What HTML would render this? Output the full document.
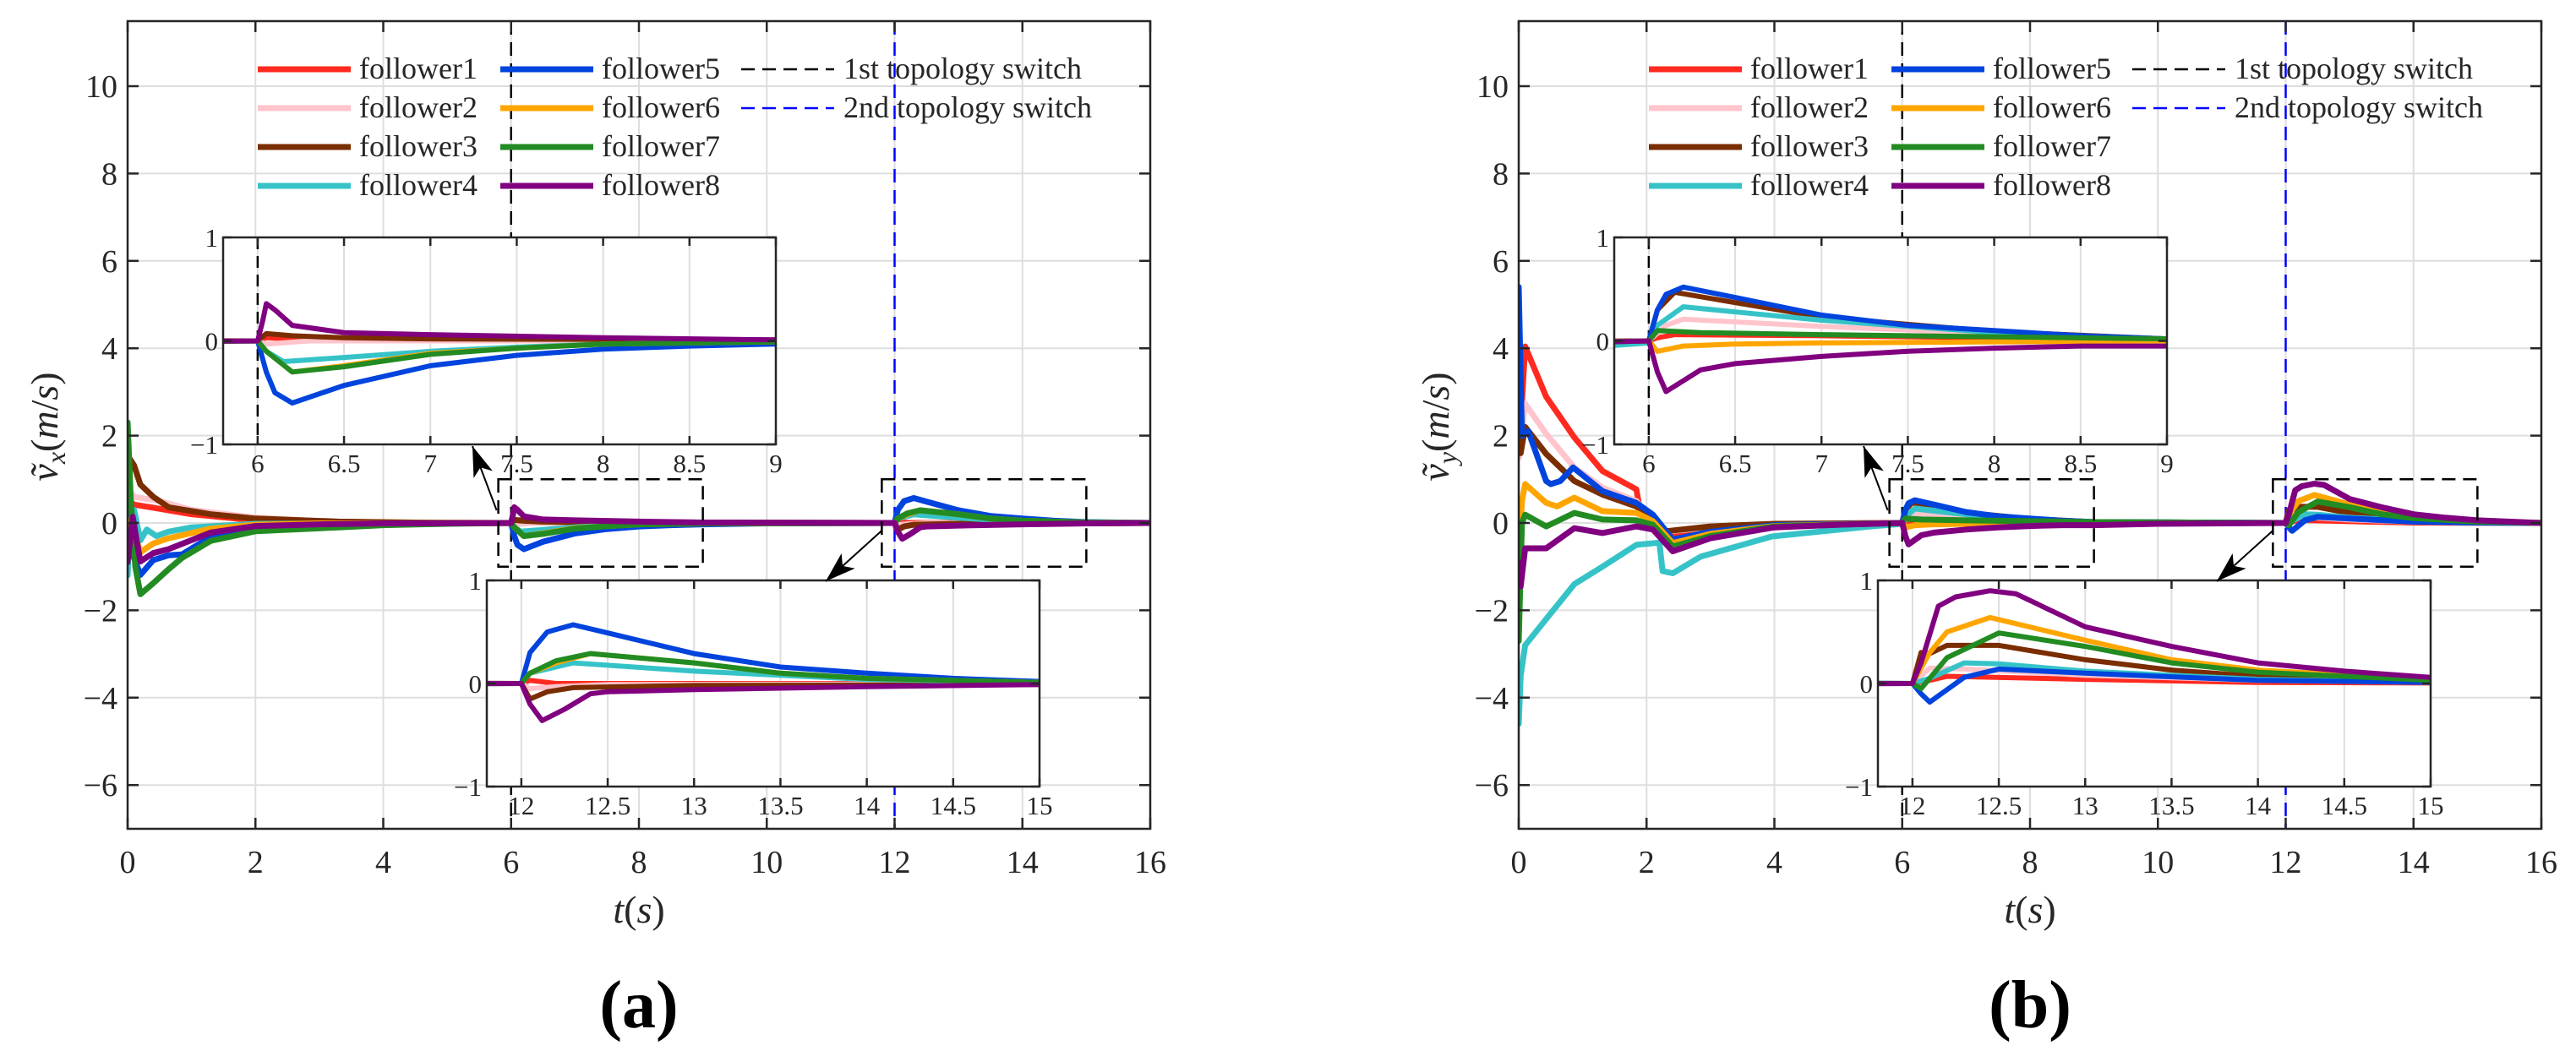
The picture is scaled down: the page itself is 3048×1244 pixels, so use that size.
<!DOCTYPE html>
<html><head><meta charset="utf-8"><style>
html,body{margin:0;padding:0;background:#fff;width:3048px;height:1244px;overflow:hidden;}
svg{display:block;font-family:"Liberation Serif",serif;}
</style></head><body>
<svg id="fig" xmlns="http://www.w3.org/2000/svg" width="3048" height="1244" viewBox="0 0 3048 1244" font-family="'Liberation Serif', serif"></svg>
<script>
// ---------- data (t, value) per follower ----------
const seriesNames = ["follower1","follower2","follower3","follower4","follower5","follower6","follower7","follower8"];
const seriesColors = ["#ff2a1f","#ffc4cc","#7a2d00","#36c3c8","#0044dd","#ffa500","#228b22","#800080"];
const xTicksMain = [0,2,4,6,8,10,12,14,16];
const yTicksMain = [-6,-4,-2,0,2,4,6,8,10];
const xTicksInset1 = [6,6.5,7,7.5,8,8.5,9];
const xTicksInset2 = [12,12.5,13,13.5,14,14.5,15];
const yTicksInset = [-1,0,1];
const switchTimes = [6,12];

const vx1 = [[0,0],[0.03,0.5],[0.1,0.42],[0.4,0.35],[1,0.2],[2,0.06],[3,0.02],[5,0],[6,0],[6.05,0.03],[6.3,0.01],[7,0],[12,0],[12.05,0.03],[12.2,0],[15,0],[16,0]];
const vx2 = [[0,0],[0.05,0.7],[0.1,0.6],[0.5,0.5],[1,0.3],[2,0.12],[3,0.04],[4,0.01],[6,0],[6.05,-0.03],[6.3,0],[12,0],[12.05,-0.05],[12.2,-0.03],[12.5,-0.01],[16,0]];
const vx3 = [[0,0.4],[0.02,1.5],[0.1,1.32],[0.2,0.88],[0.4,0.6],[0.64,0.36],[1.3,0.2],[2,0.1],[3.3,0.03],[4.5,0.01],[6,0],[6.05,0.07],[6.2,0.05],[6.5,0.03],[7,0.02],[9,0.01],[12,0],[12.05,-0.15],[12.15,-0.08],[12.3,-0.04],[13,-0.02],[15,-0.01],[16,0]];
const vx4 = [[0,-1.2],[0.04,0.3],[0.1,0.3],[0.2,-0.4],[0.3,-0.15],[0.45,-0.3],[0.64,-0.2],[1,-0.1],[2,-0.02],[6,0],[6.05,-0.1],[6.15,-0.2],[6.5,-0.16],[7,-0.1],[7.5,-0.06],[8,-0.03],[9,-0.01],[12,0],[12.05,0.1],[12.3,0.2],[13,0.12],[14,0.04],[15,0.01],[16,0]];
const vx5 = [[0,2.3],[0.02,-0.3],[0.1,-0.8],[0.2,-1.19],[0.4,-0.85],[0.64,-0.74],[0.85,-0.72],[1.3,-0.32],[2,-0.13],[3,-0.05],[4,-0.02],[6,0],[6.05,-0.3],[6.1,-0.5],[6.2,-0.6],[6.5,-0.43],[7,-0.24],[7.5,-0.14],[8,-0.08],[8.5,-0.05],[9,-0.03],[10,-0.01],[12,0],[12.05,0.3],[12.15,0.5],[12.3,0.57],[12.5,0.49],[13,0.29],[13.5,0.16],[14,0.1],[14.5,0.05],[15,0.02],[16,0]];
const vx6 = [[0,-0.4],[0.05,0.1],[0.1,-0.2],[0.2,-0.67],[0.4,-0.47],[0.64,-0.35],[1.3,-0.13],[2,-0.04],[3,-0.01],[6,0],[6.05,-0.1],[6.2,-0.3],[6.5,-0.24],[7,-0.12],[7.5,-0.07],[8,-0.03],[9,-0.01],[12,0],[12.05,0.1],[12.2,0.2],[12.4,0.29],[13,0.2],[13.5,0.1],[14,0.05],[15,0.01],[16,0]];
const vx7 = [[0,2.3],[0.05,0.5],[0.12,-1.0],[0.2,-1.63],[0.4,-1.38],[0.64,-1.06],[0.85,-0.8],[1.3,-0.41],[2,-0.19],[3.3,-0.1],[4,-0.05],[5,-0.02],[6,0],[6.05,-0.1],[6.2,-0.3],[6.5,-0.25],[7,-0.13],[7.5,-0.07],[8,-0.03],[9,-0.01],[12,0],[12.05,0.1],[12.2,0.22],[12.4,0.29],[13,0.2],[13.5,0.1],[14,0.05],[15,0.01],[16,0]];
const vx8 = [[0,-0.9],[0.08,0.14],[0.13,-0.3],[0.2,-0.88],[0.4,-0.69],[0.64,-0.6],[1.3,-0.22],[2,-0.07],[3,-0.03],[4,-0.01],[6,0],[6.03,0.2],[6.05,0.36],[6.1,0.3],[6.2,0.15],[6.5,0.08],[7,0.06],[8,0.03],[9,0.01],[12,0],[12.05,-0.2],[12.12,-0.36],[12.25,-0.25],[12.4,-0.1],[12.5,-0.08],[13,-0.06],[14,-0.03],[15,-0.01],[16,0]];

const vy1 = [[0,1.5],[0.1,4.04],[0.43,2.89],[0.87,1.96],[1.31,1.19],[1.84,0.77],[1.9,0.27],[2,0.12],[2.2,-0.27],[2.41,-0.3],[2.85,-0.2],[4,-0.05],[5,-0.01],[6,0],[6.05,0.03],[6.15,0.06],[7,0.05],[8,0.03],[9,0.01],[10,0],[12,0],[12.1,0.03],[12.2,0.07],[13,0.04],[14,0.01],[16,0]];
const vy2 = [[0,1.5],[0.1,2.73],[0.43,2.04],[0.87,1.27],[1.31,0.81],[1.84,0.5],[2.1,0.04],[2.3,-0.2],[3,-0.1],[4,-0.03],[6,0],[6.1,0.15],[6.2,0.21],[7,0.14],[8,0.07],[9,0.02],[12,0],[12.1,0.15],[12.3,0.14],[13,0.08],[14,0.03],[15,0.01],[16,0]];
const vy3 = [[0,2.9],[0.03,1.6],[0.1,2.2],[0.43,1.58],[0.87,0.96],[1.31,0.65],[1.84,0.38],[2.1,0.1],[2.3,-0.19],[3,-0.08],[4,-0.02],[6,0],[6.05,0.3],[6.15,0.47],[6.5,0.37],[7,0.23],[8,0.09],[9,0.02],[12,0],[12.05,0.3],[12.1,0.29],[12.2,0.37],[12.5,0.37],[13,0.23],[13.5,0.13],[14,0.07],[15,0.02],[16,0]];
const vy4 = [[0,-4.6],[0.03,-3.5],[0.1,-2.8],[0.43,-2.2],[0.87,-1.4],[1.31,-1.0],[1.84,-0.5],[2.2,-0.45],[2.25,-1.1],[2.41,-1.15],[2.85,-0.77],[3.96,-0.31],[5.5,-0.08],[6,-0.02],[6.05,0.15],[6.2,0.33],[6.5,0.28],[7,0.2],[8,0.08],[9,0.02],[12,0],[12.1,0.05],[12.3,0.2],[12.5,0.19],[13,0.12],[14,0.04],[15,0.01],[16,0]];
const vy5 = [[0,5.4],[0.05,2.0],[0.15,2.1],[0.43,0.96],[0.5,0.89],[0.65,0.96],[0.85,1.27],[1.31,0.73],[1.84,0.46],[2.1,0.19],[2.41,-0.38],[3,-0.2],[4,-0.05],[6,0],[6.05,0.3],[6.1,0.45],[6.2,0.52],[6.5,0.42],[7,0.25],[7.5,0.15],[8,0.1],[8.5,0.05],[9,0.02],[12,0],[12.05,-0.1],[12.1,-0.18],[12.3,0.06],[12.5,0.14],[13,0.1],[14,0.03],[15,0.01],[16,0]];
const vy6 = [[0,-0.8],[0.05,0.5],[0.1,0.89],[0.43,0.46],[0.6,0.38],[0.87,0.58],[1.31,0.27],[1.84,0.23],[2.1,0.04],[2.41,-0.46],[3,-0.25],[4,-0.07],[6,0],[6.05,-0.1],[6.2,-0.05],[6.5,-0.03],[7,-0.02],[9,0],[12,0],[12.1,0.3],[12.2,0.5],[12.45,0.64],[13,0.42],[13.5,0.23],[14,0.13],[15,0.04],[16,0]];
const vy7 = [[0,-2.7],[0.05,0],[0.1,0.19],[0.43,-0.08],[0.87,0.23],[1.31,0.08],[1.84,0.06],[2.1,-0.04],[2.41,-0.54],[3,-0.3],[4,-0.08],[6,0],[6.05,0.1],[6.3,0.08],[7,0.06],[8,0.04],[9,0.02],[12,0],[12.05,-0.05],[12.2,0.25],[12.5,0.49],[13,0.36],[13.5,0.2],[14,0.11],[15,0.03],[16,0]];
const vy8 = [[0,-0.9],[0.03,-1.45],[0.1,-0.58],[0.43,-0.58],[0.87,-0.12],[1.31,-0.23],[1.84,-0.08],[2.1,-0.15],[2.41,-0.65],[3,-0.35],[4,-0.1],[5,-0.04],[6,0],[6.05,-0.3],[6.1,-0.49],[6.3,-0.28],[6.5,-0.22],[7,-0.15],[7.5,-0.1],[8,-0.07],[8.5,-0.05],[9,-0.05],[10,-0.02],[12,0],[12.05,0.2],[12.15,0.75],[12.25,0.84],[12.45,0.9],[12.6,0.87],[13,0.55],[13.5,0.36],[14,0.2],[14.5,0.12],[15,0.06],[16,0]];

const seriesVx = [vx1,vx2,vx3,vx4,vx5,vx6,vx7,vx8];
const seriesVy = [vy1,vy2,vy3,vy4,vy5,vy6,vy7,vy8];

// ---------- rendering ----------
const NS = "http://www.w3.org/2000/svg";
const svg = document.getElementById("fig");
const SERIF = "'Liberation Serif', 'DejaVu Serif', serif";
function mk(tag, attrs, parent){
  const e = document.createElementNS(NS, tag);
  for (const k in attrs) e.setAttribute(k, attrs[k]);
  if (tag === "text") e.setAttribute("font-family", SERIF);
  (parent||svg).appendChild(e);
  return e;
}
const defs = mk("defs", {});


const marker = mk("marker", {id:"arrowhead", markerWidth:"36", markerHeight:"24", refX:"36", refY:"12", orient:"auto", markerUnits:"userSpaceOnUse", viewBox:"0 0 36 24"}, defs);


const ah = mk("path", {d:"M0,0 L36,12 L0,24 L9,12 Z", fill:"#000"}, marker);



function pathFrom(data, fx, fy){
  return data.map((p,i)=>(i?"L":"M")+fx(p[0]).toFixed(1)+","+fy(p[1]).toFixed(1)).join(" ");
}

function drawPlot(ox, series, sub, letter, pid){
  const g = mk("g", {});
  
  
  const L = ox+151, R = ox+1361, T = 25, B = 981;
  const X = t => L + t*(R-L)/16;
  const Y = v => 619 - v*51.7;

  const cp = mk("clipPath", {id:"clip-main-"+pid}, defs);
  
  
  const cpr = mk("rect", {x:L, y:T, width:R-L, height:B-T}, cp);
  
  

  for (const t of xTicksMain){
    const gl = mk("line", {x1:X(t), x2:X(t), y1:T, y2:B, stroke:"#dedede", "stroke-width":2}, g);
    
    
  }
  for (const v of yTicksMain){
    const gl = mk("line", {x1:L, x2:R, y1:Y(v), y2:Y(v), stroke:"#dedede", "stroke-width":2}, g);
    
    
  }
  const sw1 = mk("line", {x1:X(switchTimes[0]), x2:X(switchTimes[0]), y1:T, y2:B, stroke:"#000", "stroke-width":2.5, "stroke-dasharray":"16 9"}, g);
  
  
  const sw2 = mk("line", {x1:X(switchTimes[1]), x2:X(switchTimes[1]), y1:T, y2:B, stroke:"#0000ff", "stroke-width":2.5, "stroke-dasharray":"16 9"}, g);
  
  

  const sg = mk("g", {"clip-path":"url(#clip-main-"+pid+")"}, g);
  
  
  series.forEach((d,i)=>{
    const p = mk("path", {d:pathFrom(d,X,Y), fill:"none", stroke:seriesColors[i], "stroke-width":7, "stroke-linejoin":"round", "stroke-linecap":"round"}, sg);
    
    
  });

  const box = mk("rect", {x:L, y:T, width:R-L, height:B-T, fill:"none", stroke:"#262626", "stroke-width":2.5}, g);
  
  
  for (const t of xTicksMain){
    const tk = mk("path", {d:`M${X(t)},${B} v-13 M${X(t)},${T} v13`, stroke:"#262626", "stroke-width":2.5}, g);
    
    
    const tl = mk("text", {x:X(t), y:1033, "font-size":38, "text-anchor":"middle", fill:"#262626"}, g);
    
    
    tl.textContent = String(t);
  }
  for (const v of yTicksMain){
    const tk = mk("path", {d:`M${L},${Y(v)} h13 M${R},${Y(v)} h-13`, stroke:"#262626", "stroke-width":2.5}, g);
    
    
    const tl = mk("text", {x:L-12, y:Y(v)+13, "font-size":38, "text-anchor":"end", fill:"#262626"}, g);
    
    
    tl.textContent = v<0 ? "\u2212"+Math.abs(v) : String(v);
  }

  const zb1 = mk("rect", {x:X(5.8), y:Y(1), width:X(9)-X(5.8), height:Y(-1)-Y(1), fill:"none", stroke:"#000", "stroke-width":2.5, "stroke-dasharray":"16 9"}, g);
  
  
  const zb2 = mk("rect", {x:X(11.8), y:Y(1), width:X(15)-X(11.8), height:Y(-1)-Y(1), fill:"none", stroke:"#000", "stroke-width":2.5, "stroke-dasharray":"16 9"}, g);
  
  

  const insets = [
    {l:ox+264, t:281, w:654, h:245, x0:5.8, x1:9, ticks:xTicksInset1, dashAt:6, name:"inset-1"},
    {l:ox+576, t:687, w:654, h:244, x0:11.8, x1:15, ticks:xTicksInset2, dashAt:null, name:"inset-2"}
  ];
  insets.forEach((ins,k)=>{
    const ig = mk("g", {}, g);
    
    
    const IX = t => ins.l + (t-ins.x0)*ins.w/(ins.x1-ins.x0);
    const IY = v => ins.t + (1-v)*ins.h/2;
    const bg = mk("rect", {x:ins.l, y:ins.t, width:ins.w, height:ins.h, fill:"#fff"}, ig);
    
    
    const c = mk("clipPath", {id:"clip-"+pid+"-"+k}, defs);
    
    
    const cr = mk("rect", {x:ins.l, y:ins.t, width:ins.w, height:ins.h}, c);
    
    
    for (const t of ins.ticks){
      const gl = mk("line", {x1:IX(t), x2:IX(t), y1:ins.t, y2:ins.t+ins.h, stroke:"#dedede", "stroke-width":2}, ig);
      
      
    }
    if (ins.dashAt!==null){
      const dl = mk("line", {x1:IX(ins.dashAt), x2:IX(ins.dashAt), y1:ins.t, y2:ins.t+ins.h, stroke:"#000", "stroke-width":2.5, "stroke-dasharray":"14 8"}, ig);
      
      
    }
    const isg = mk("g", {"clip-path":"url(#clip-"+pid+"-"+k+")"}, ig);
    
    
    series.forEach((d,i)=>{
      const p = mk("path", {d:pathFrom(d,IX,IY), fill:"none", stroke:seriesColors[i], "stroke-width":6, "stroke-linejoin":"round", "stroke-linecap":"round"}, isg);
      
      
    });
    const ib = mk("rect", {x:ins.l, y:ins.t, width:ins.w, height:ins.h, fill:"none", stroke:"#262626", "stroke-width":2.5}, ig);
    
    
    for (const t of ins.ticks){
      const tk = mk("path", {d:`M${IX(t)},${ins.t+ins.h} v-10 M${IX(t)},${ins.t} v10`, stroke:"#262626", "stroke-width":2.5}, ig);
      
      
      const tl = mk("text", {x:IX(t), y:ins.t+ins.h+33, "font-size":31, "text-anchor":"middle", fill:"#262626"}, ig);
      
      
      tl.textContent = String(t);
    }
    for (const v of yTicksInset){
      const tk = mk("path", {d:`M${ins.l},${IY(v)} h10 M${ins.l+ins.w},${IY(v)} h-10`, stroke:"#262626", "stroke-width":2.5}, ig);
      
      
      const tl = mk("text", {x:ins.l-6, y:IY(v)+11, "font-size":31, "text-anchor":"end", fill:"#262626"}, ig);
      
      
      tl.textContent = v<0 ? "\u2212"+Math.abs(v) : String(v);
    }
  });

  const a1 = mk("line", {x1:X(5.8)-2, y1:604, x2:ox+559, y2:528, stroke:"#000", "stroke-width":2, "marker-end":"url(#arrowhead)"}, g);
  
  
  const a2 = mk("line", {x1:X(11.8), y1:628, x2:ox+977, y2:688, stroke:"#000", "stroke-width":2, "marker-end":"url(#arrowhead)"}, g);
  
  

  const lg = mk("g", {}, g);
  
  
  const colX = [ox+305, ox+592];
  seriesNames.forEach((n,i)=>{
    const cx = colX[Math.floor(i/4)], ry = 82 + (i%4)*46;
    const ln = mk("line", {x1:cx, x2:cx+110, y1:ry, y2:ry, stroke:seriesColors[i], "stroke-width":7}, lg);
    
    
    const tx = mk("text", {x:cx+120, y:ry+11, "font-size":36, fill:"#262626"}, lg);
    
    
    tx.textContent = n;
  });
  const swLabels = ["1st topology switch","2nd topology switch"];
  const swColors = ["#000","#0000ff"];
  swLabels.forEach((n,i)=>{
    const ry = 82 + i*46;
    const ln = mk("line", {x1:ox+877, x2:ox+987, y1:ry, y2:ry, stroke:swColors[i], "stroke-width":2.5, "stroke-dasharray":"16 9"}, lg);
    
    
    const tx = mk("text", {x:ox+998, y:ry+11, "font-size":36, fill:"#262626"}, lg);
    
    
    tx.textContent = n;
  });

  const yl = mk("text", {x:0, y:0, "font-size":46, "text-anchor":"middle", fill:"#262626", transform:`translate(${ox+68},505) rotate(-90)`}, g);
  
  
  yl.innerHTML = `<tspan font-style="italic">ṽ</tspan><tspan font-style="italic" font-size="32" dy="9">${sub}</tspan><tspan dy="-9">(</tspan><tspan font-style="italic">m</tspan><tspan>/</tspan><tspan font-style="italic">s</tspan><tspan>)</tspan>`;
  const xl = mk("text", {x:(L+R)/2, y:1092, "font-size":46, "text-anchor":"middle", fill:"#262626"}, g);
  
  
  xl.innerHTML = `<tspan font-style="italic">t</tspan>(<tspan font-style="italic">s</tspan>)`;
  const pl = mk("text", {x:(L+R)/2, y:1216, "font-size":80, "text-anchor":"middle", "font-weight":"bold", fill:"#000"}, g);
  
  
  pl.textContent = "("+letter+")";
}

drawPlot(0, seriesVx, "x", "a", "a");
drawPlot(1646, seriesVy, "y", "b", "b");
</script>
</body></html>
